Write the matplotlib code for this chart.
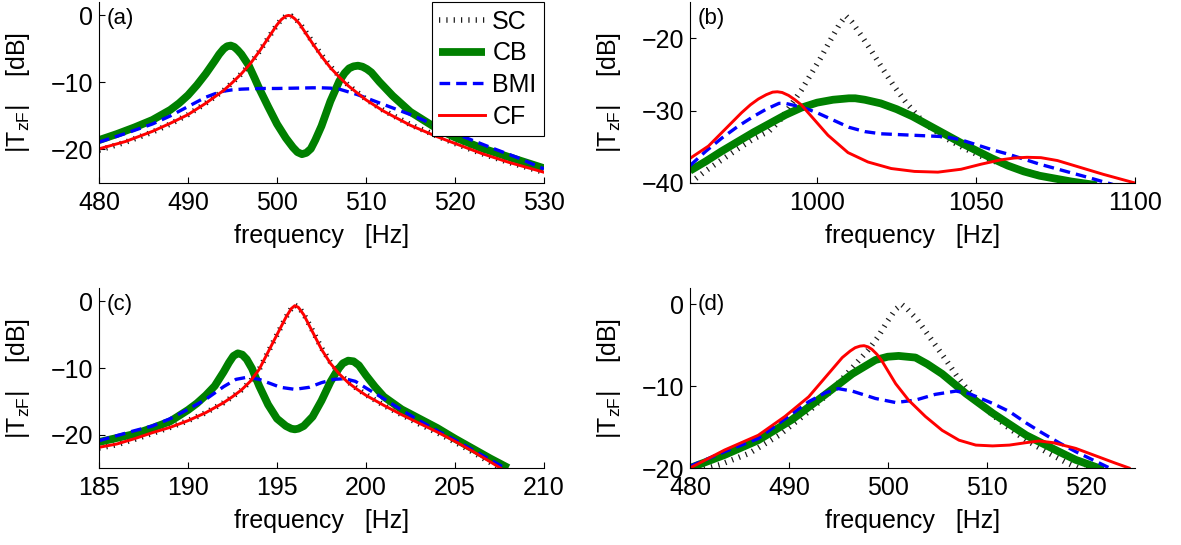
import matplotlib
matplotlib.use('Agg')
import matplotlib.pyplot as plt

plt.rcParams['font.family'] = ['Liberation Sans', 'DejaVu Sans']
plt.rcParams['mathtext.fontset'] = 'custom'
plt.rcParams['mathtext.rm'] = 'Liberation Sans'
plt.rcParams['mathtext.it'] = 'Liberation Sans:italic'
plt.rcParams['mathtext.bf'] = 'Liberation Sans:bold'

# ---------------- data ----------------
series_names = ['SC', 'CB', 'BMI', 'CF']

# panel (a)
fa_sc = [480, 483, 486, 488, 490, 492, 494, 495, 496, 497, 498, 499, 500, 500.5, 501, 501.3,
         501.6, 502, 502.5, 503, 504, 505, 506, 507, 508, 510, 512, 515, 518, 520, 523, 526, 530]
sc_a = [-20.1, -18.9, -17.4, -16.2, -14.8, -13.1, -11.2, -10.0, -8.7, -7.2, -5.4, -3.4, -1.4, -0.6,
        -0.1, 0.0, -0.1, -0.4, -1.1, -2.0, -4.0, -5.9, -7.6, -9.1, -10.4, -12.5, -14.2, -16.3,
        -18.0, -19.1, -20.6, -21.9, -23.4]
fa_cf = fa_sc
cf_a = [-19.9, -18.8, -17.3, -16.1, -14.8, -13.1, -11.2, -10.0, -8.7, -7.2, -5.4, -3.4, -1.4, -0.6,
        -0.1, 0.0, -0.1, -0.5, -1.2, -2.2, -4.2, -6.1, -7.8, -9.2, -10.5, -12.6, -14.3, -16.4,
        -18.1, -19.1, -20.6, -21.9, -23.4]
fa_cb = [480, 482, 484, 486, 488, 489, 490, 491, 492, 493, 493.5, 494, 494.4, 494.8, 495.2, 495.6,
         496, 496.8, 497.5, 498, 499, 500, 501, 501.8, 502.3, 502.8, 503.3, 503.8, 504.3, 505, 506,
         507, 507.6, 508.1, 508.6, 509.1, 509.6, 510.1, 510.6, 511.5, 513, 515, 518, 520, 523,
         526, 530]
cb_a = [-18.6, -17.7, -16.7, -15.6, -14.1, -13.1, -11.9, -10.4, -8.7, -6.8, -5.8, -5.0, -4.6, -4.5,
        -4.7, -5.2, -5.8, -7.4, -9.4, -10.9, -13.6, -16.2, -18.3, -19.7, -20.4, -20.7, -20.5,
        -19.9, -18.6, -16.5, -12.8, -9.8, -8.6, -7.9, -7.6, -7.5, -7.65, -8.0, -8.5, -9.9, -12.0,
        -14.4, -16.9, -18.2, -19.8, -21.1, -22.8]
fa_bmi = [480, 483, 486, 488, 490, 492, 493, 494, 495, 496, 498, 500, 502, 504, 505, 506, 507, 508,
          509, 510, 512, 515, 518, 520, 524, 527, 530]
bmi_a = [-18.9, -17.6, -16.2, -15.0, -13.6, -12.2, -11.7, -11.3, -11.1, -11.0, -10.9, -10.9, -10.85,
         -10.8, -10.8, -10.85, -11.0, -11.4, -11.8, -12.3, -13.3, -14.8, -16.5, -17.6, -19.7,
         -21.2, -22.9]

# panel (b)
fb_sc = [960, 965, 970, 975, 980, 985, 988, 991, 995, 998, 1001, 1004, 1007, 1009, 1011, 1014, 1017,
         1020, 1024, 1028, 1032, 1036, 1040, 1045, 1050, 1055, 1060, 1065, 1070, 1080, 1090, 1100]
sc_b = [-40.0, -38.3, -36.8, -35.3, -33.9, -32.8, -31.5, -29.7, -27.2, -25.0, -22.8, -20.4, -18.1,
        -16.9, -17.8, -19.7, -21.7, -23.8, -26.5, -28.9, -30.9, -32.5, -33.7, -34.9, -36.0, -36.9,
        -37.6, -38.3, -38.9, -40.0, -41.0, -42.0]
fb_cb = [960, 965, 970, 975, 980, 985, 990, 995, 1000, 1005, 1010, 1012, 1015, 1020, 1025, 1030,
         1035, 1040, 1045, 1050, 1055, 1060, 1065, 1070, 1075, 1080, 1088]
cb_b = [-38.3, -37.0, -35.6, -34.3, -33.0, -31.8, -30.6, -29.6, -28.9, -28.5, -28.3, -28.3, -28.5,
        -29.0, -29.8, -30.8, -32.0, -33.2, -34.4, -35.5, -36.6, -37.6, -38.4, -39.0, -39.4, -39.8,
        -40.3]
fb_bmi = [960, 965, 970, 975, 980, 984, 988, 990, 993, 997, 1000, 1005, 1010, 1015, 1020, 1030,
          1040, 1045, 1050, 1055, 1060, 1065, 1070, 1075, 1080, 1085, 1093]
bmi_b = [-37.6, -35.6, -33.8, -32.2, -30.8, -29.8, -29.0, -29.0, -29.3, -29.8, -30.3, -31.3, -32.3,
         -32.9, -33.2, -33.4, -33.6, -34.0, -34.7, -35.4, -36.0, -36.7, -37.4, -38.0, -38.6, -39.2,
         -40.2]
fb_cf = [960, 965.8, 971, 976.2, 979, 981.5, 984, 986, 987.5, 989, 991, 993, 995, 999.2, 1003.4,
         1009.7, 1016, 1023.3, 1030.6, 1038, 1045.3, 1051.6, 1057.8, 1062, 1066, 1070.4, 1075.6,
         1080.9, 1090, 1100]
cf_b = [-36.6, -34.9, -32.6, -30.3, -29.2, -28.4, -27.8, -27.45, -27.4, -27.5, -27.9, -28.5, -29.2,
        -31.3, -33.4, -35.8, -37.1, -38.0, -38.4, -38.5, -38.1, -37.4, -36.8, -36.55, -36.45,
        -36.5, -36.9, -37.6, -38.8, -40.0]

# panel (c)
fc_cf = [185, 186, 187, 188, 189, 190, 191, 192, 192.5, 193, 193.5, 194, 194.5, 195, 195.5, 195.8,
         196, 196.2, 196.5, 197, 197.5, 198, 198.5, 199, 199.5, 200, 201, 202, 203, 204, 205, 206,
         207, 207.6]
cf_c = [-21.9, -21.4, -20.6, -19.7, -18.9, -17.9, -16.7, -15.2, -14.3, -13.3, -12.0, -10.2, -7.6,
        -5.0, -2.4, -1.1, -0.65, -0.9, -2.0, -4.6, -7.2, -9.3, -10.9, -12.2, -13.2, -14.1, -15.6,
        -17.0, -18.3, -19.6, -21.0, -22.5, -24.1, -25.1]
fc_sc = fc_cf
sc_c = [-22.0, -21.5, -20.7, -19.8, -18.9, -17.9, -16.7, -15.2, -14.3, -13.3, -12.0, -10.2, -7.6,
        -5.0, -2.4, -1.1, -0.6, -0.8, -1.9, -4.4, -7.0, -9.1, -10.8, -12.1, -13.1, -14.0, -15.6,
        -17.0, -18.4, -19.7, -21.1, -22.6, -24.2, -25.2]
fc_cb = [185, 186, 187, 188, 189, 190, 190.5, 191, 191.5, 192, 192.3, 192.55, 192.8, 193.05, 193.3,
         193.6, 194, 194.5, 195, 195.5, 195.8, 196, 196.2, 196.5, 197, 197.5, 198, 198.4, 198.7,
         199, 199.3, 199.6, 200, 200.5, 201, 202, 203, 204, 205, 206, 207, 208]
cb_c = [-21.1, -20.5, -19.9, -19.0, -18.0, -16.3, -15.3, -14.1, -12.7, -10.6, -9.2, -8.2, -7.8,
        -8.0, -8.7, -10.1, -12.7, -15.5, -17.6, -18.7, -19.1, -19.2, -19.1, -18.7, -17.3, -14.9,
        -12.1, -10.3, -9.3, -8.9, -9.0, -9.6, -11.1, -12.8, -14.3, -16.2, -17.6, -19.0, -20.6,
        -22.1, -23.6, -25.0]
fc_bmi = [185, 187, 188, 189, 190, 191, 192, 192.7, 193.3, 194, 194.6, 195.2, 196, 196.8, 197.5,
          198.2, 198.8, 199.4, 200, 200.5, 201, 202, 203, 204, 205, 206, 207, 207.8]
bmi_c = [-20.9, -19.4, -18.7, -17.6, -16.2, -14.7, -12.8, -11.7, -11.4, -11.7, -12.3, -12.9, -13.2,
         -12.9, -12.2, -11.7, -11.6, -12.0, -13.0, -13.8, -14.6, -16.3, -17.9, -19.4, -20.8, -22.3,
         -23.8, -25.0]

# panel (d)
fd_sc = [480, 483, 486, 489, 492, 494, 496, 498, 499, 500, 500.8, 501.4, 502, 503, 504, 505, 506,
         507, 508, 510, 512, 514, 516, 518, 520, 522, 525]
sc_d = [-20.6, -19.6, -18.2, -16.0, -13.1, -10.9, -8.3, -5.6, -4.0, -2.0, -0.6, 0.0, -0.6, -1.9,
        -3.6, -5.3, -7.0, -8.8, -10.3, -12.9, -14.9, -16.6, -18.0, -19.3, -20.4, -21.3, -22.5]
fd_cb = [480, 483.5, 486.9, 490.3, 493.7, 496.4, 498.75, 500, 501.1, 502.8, 504, 505.5, 507.9,
         510.6, 514, 517.3, 519, 521.8]
cb_d = [-20.0, -18.4, -16.6, -14.1, -11.0, -8.5, -6.8, -6.4, -6.3, -6.5, -7.3, -8.5, -10.9, -13.3,
        -16.0, -18.0, -19.0, -20.2]
fd_bmi = [480, 483.5, 486.9, 489.6, 492, 493.7, 495, 496.4, 498.75, 500.8, 502.8, 504.8, 506.9,
          508.2, 510.6, 512.3, 514, 515.6, 517.3, 519, 522.6]
bmi_d = [-19.8, -18.0, -16.4, -14.0, -11.9, -10.8, -10.3, -10.6, -11.5, -12.0, -11.7, -11.0, -10.6,
         -10.9, -12.1, -13.1, -14.5, -15.7, -16.9, -18.0, -20.1]
fd_cf = [480, 483.5, 486.9, 489.6, 492, 493.7, 495.4, 496.2, 496.7, 497.2, 497.6, 498.0, 498.4,
         498.9, 499.4, 500.8, 502.1, 503.8, 505.5, 507.2, 508.9, 510.6, 512.3, 514, 515.3, 516.7,
         519, 521, 523, 524.4]
cf_d = [-20.0, -17.8, -16.0, -13.7, -11.3, -8.9, -6.5, -5.7, -5.3, -5.1, -5.05, -5.2, -5.5, -6.1,
        -6.9, -9.7, -11.7, -13.7, -15.4, -16.6, -17.2, -17.3, -17.2, -16.9, -16.7, -16.9, -17.6,
        -18.5, -19.4, -20.0]

panels = {
    'a': dict(data=[(fa_sc, sc_a), (fa_cb, cb_a), (fa_bmi, bmi_a), (fa_cf, cf_a)],
              xlim=(480, 530), ylim=(-25, 2), xticks=[480, 490, 500, 510, 520, 530],
              yticks=[-20, -10, 0]),
    'b': dict(data=[(fb_sc, sc_b), (fb_cb, cb_b), (fb_bmi, bmi_b), (fb_cf, cf_b)],
              xlim=(960, 1100), ylim=(-40, -15), xticks=[1000, 1050, 1100],
              yticks=[-40, -30, -20]),
    'c': dict(data=[(fc_sc, sc_c), (fc_cb, cb_c), (fc_bmi, bmi_c), (fc_cf, cf_c)],
              xlim=(185, 210), ylim=(-25, 2), xticks=[185, 190, 195, 200, 205, 210],
              yticks=[-20, -10, 0]),
    'd': dict(data=[(fd_sc, sc_d), (fd_cb, cb_d), (fd_bmi, bmi_d), (fd_cf, cf_d)],
              xlim=(480, 525), ylim=(-20, 2), xticks=[480, 490, 500, 510, 520],
              yticks=[-20, -10, 0]),
}

styles = [
    dict(color='0.1', lw=4.0, ls=(0, (0.22, 1.1)), dash_capstyle='butt'),
    dict(color=(0, 0.5, 0), lw=5.6, ls='-', solid_capstyle='butt', solid_joinstyle='round'),
    dict(color=(0, 0, 1), lw=2.4, ls=(0, (3.2, 1.8)), dash_capstyle='butt'),
    dict(color=(1, 0, 0), lw=2.1, ls='-', solid_joinstyle='round'),
]

W, H = 1181, 545
positions = {
    'a': [99 / W, 1 - 183 / H, 445 / W, 181 / H],
    'b': [690 / W, 1 - 183 / H, 445 / W, 181 / H],
    'c': [99 / W, 1 - 468 / H, 445 / W, 180 / H],
    'd': [690 / W, 1 - 468 / H, 445 / W, 180 / H],
}

FS = 18

fig = plt.figure(figsize=(W / 100, H / 100), dpi=100)

for key, p in panels.items():
    ax = fig.add_axes(positions[key])
    for (f, v), st, name in zip(p['data'], styles, series_names):
        ax.plot(f, v, label=name, **st)
    ax.set_xlim(*p['xlim'])
    ax.set_ylim(*p['ylim'])
    ax.set_xticks(p['xticks'])
    ax.set_yticks(p['yticks'])
    for s in ['top', 'right']:
        ax.spines[s].set_visible(False)
    for s in ['left', 'bottom']:
        ax.spines[s].set_linewidth(0.8)
    ax.tick_params(direction='in', length=4, width=0.8, labelsize=FS)
    ax.tick_params(axis='x', pad=5.5)
    ax.tick_params(axis='y', pad=4)
    ax.set_xlabel('frequency   [Hz]', fontsize=FS)
    ax.set_ylabel(r'$|\mathrm{T}_{\mathrm{zF}}|$    [dB]', fontsize=FS)
    ax.yaxis.set_label_coords(-0.15, 0.5)
    ax.xaxis.set_label_coords(0.5, -0.226)
    ax.text(0.017, 0.965, '(%s)' % key, transform=ax.transAxes, ha='left', va='top',
            fontsize=16)
    if key == 'a':
        leg = ax.legend(loc='upper right', bbox_to_anchor=(1.0, 1.0), fontsize=FS,
                        frameon=True, fancybox=False, borderaxespad=0, handlelength=1.85,
                        handletextpad=0.28, labelspacing=0.31, borderpad=0.3)
        leg.get_frame().set_edgecolor('black')
        leg.get_frame().set_linewidth(0.8)
        leg.get_frame().set_alpha(1)

fig.savefig('out.png', dpi=100)
